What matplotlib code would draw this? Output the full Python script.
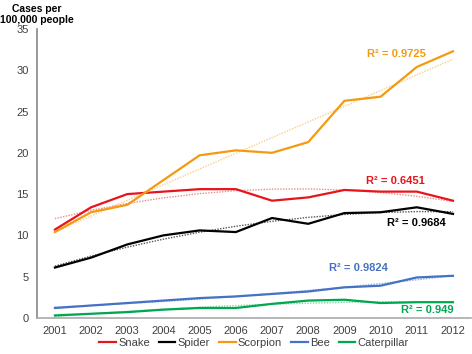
import matplotlib.pyplot as plt
import numpy as np

plt.rcParams['font.family'] = ['Liberation Sans', 'DejaVu Sans']

years = np.arange(2001, 2013)
snake = [10.7, 13.4, 15.0, 15.3, 15.6, 15.6, 14.2, 14.6, 15.5, 15.3, 15.3, 14.2]
spider = [6.1, 7.3, 8.9, 10.0, 10.6, 10.4, 12.1, 11.4, 12.7, 12.8, 13.4, 12.6]
scorpion = [10.4, 12.8, 13.7, 16.7, 19.7, 20.3, 20.0, 21.3, 26.3, 26.8, 30.4, 32.3]
bee = [1.2, 1.5, 1.8, 2.1, 2.4, 2.6, 2.9, 3.2, 3.7, 3.9, 4.9, 5.1]
caterpillar = [0.3, 0.5, 0.7, 1.0, 1.2, 1.2, 1.7, 2.1, 2.2, 1.8, 1.9, 1.9]

names = ['Snake', 'Spider', 'Scorpion', 'Bee', 'Caterpillar']
r2_labels = ['R² = 0.6451', 'R² = 0.9684', 'R² = 0.9725', 'R² = 0.9824', 'R² = 0.949']
trend_deg = [2, 2, 1, 2, 2]
label_pos = [(2010.4, 16.6), (2011.0, 11.5), (2010.45, 32.0), (2009.4, 6.0), (2011.3, 1.0)]

colors = ['#E8141B', '#000000', '#F59A0F', '#4472C4', '#00A650']
trend_colors = ['#EE8A8E', '#555555', '#F7CF8A', '#8FAADC', '#7FD3A0']

fig = plt.figure(figsize=(4.72, 3.54), dpi=100)
ax = fig.add_axes([0.078, 0.102, 0.92, 0.816])

series = [snake, spider, scorpion, bee, caterpillar]
for vals, name, c, tc, deg, lab, pos in zip(series, names, colors, trend_colors,
                                            trend_deg, r2_labels, label_pos):
    coef = np.polyfit(years, vals, deg)
    ax.plot(years, np.polyval(coef, years), color=tc, lw=1.0, ls=(0, (1, 1)))
    ax.plot(years, vals, color=c, lw=1.6, label=name)
    ax.text(pos[0], pos[1], lab, color=c, fontsize=8, fontweight='bold',
            ha='center', va='center')

ax.set_xlim(2000.5, 2012.5)
ax.set_ylim(0, 35)
ax.set_xticks(years)
ax.set_yticks(range(0, 36, 5))
ax.tick_params(length=0, labelsize=8, colors='#404040', pad=6)
for s in ['top', 'right']:
    ax.spines[s].set_visible(False)
ax.spines['left'].set_color('#888888')
ax.spines['bottom'].set_color('#AAAAAA')
ax.spines['left'].set_linewidth(1.2)
ax.spines['bottom'].set_linewidth(1.2)

fig.text(0.078, 0.958, 'Cases per\n100,000 people', ha='center', va='center',
         fontsize=7.5, fontweight='bold', linespacing=1.15)

ax.legend(loc='center', bbox_to_anchor=(0.5, -0.088), ncol=5, frameon=False,
          fontsize=8, handlelength=1.5, handletextpad=0.2, columnspacing=0.8,
          labelcolor='#404040')

fig.savefig('out.png', dpi=100)
